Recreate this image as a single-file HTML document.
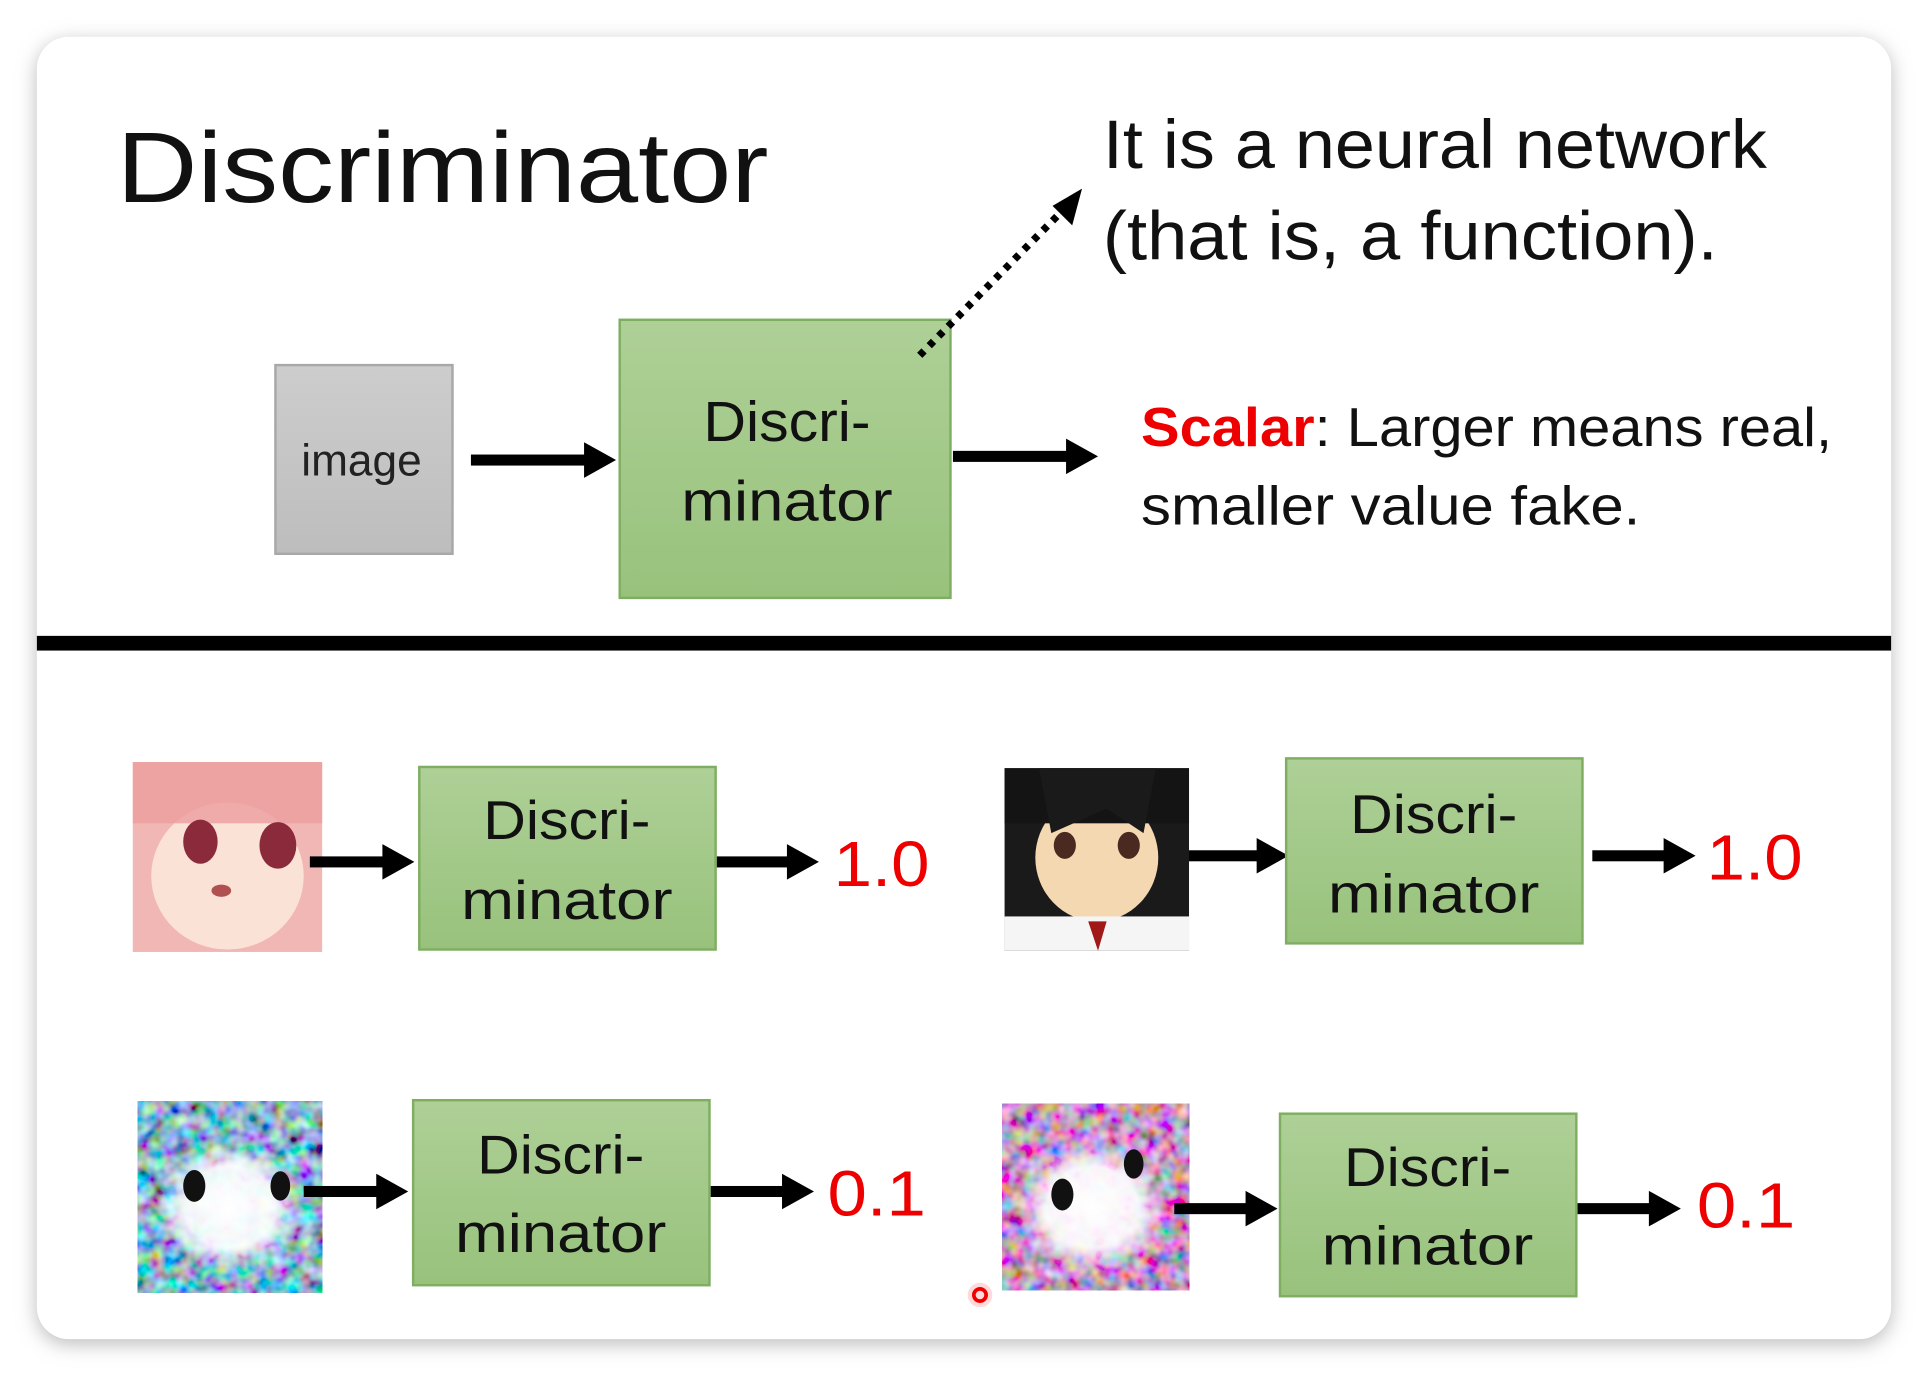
<!DOCTYPE html>
<html><head><meta charset="utf-8"><style>
html,body{margin:0;padding:0;background:#fff;width:1928px;height:1382px;overflow:hidden}
svg{display:block}
text{font-family:"Liberation Sans",sans-serif}
</style></head><body>
<svg width="1928" height="1382" viewBox="0 0 1568 1128" preserveAspectRatio="none" xmlns="http://www.w3.org/2000/svg">
<defs>
<filter id="sh" x="-5%" y="-5%" width="110%" height="110%"><feGaussianBlur stdDeviation="8"/></filter>
<linearGradient id="g" x1="0" y1="0" x2="0" y2="1"><stop offset="0" stop-color="#aed097"/><stop offset="1" stop-color="#98c27c"/></linearGradient>
<linearGradient id="gr" x1="0" y1="0" x2="0" y2="1"><stop offset="0" stop-color="#cdcdcd"/><stop offset="1" stop-color="#bdbdbd"/></linearGradient>
<filter id="n1" x="0" y="0" width="100%" height="100%"><feTurbulence type="fractalNoise" baseFrequency="0.09" numOctaves="2" seed="3"/><feColorMatrix type="matrix" values="1.2 0 0 0 -0.35  0 1.6 0 0 -0.35  0 0 1.6 0 -0.2  0 0 0 0 1"/></filter>
<filter id="n2" x="0" y="0" width="100%" height="100%"><feTurbulence type="fractalNoise" baseFrequency="0.09" numOctaves="2" seed="7"/><feColorMatrix type="matrix" values="1.6 0 0 0 -0.25  0 1.3 0 0 -0.35  0 0 1.6 0 -0.25  0 0 0 0 1"/></filter>
<radialGradient id="wc"><stop offset="0" stop-color="#fff" stop-opacity="1"/><stop offset="0.6" stop-color="#fff" stop-opacity="0.9"/><stop offset="1" stop-color="#fff" stop-opacity="0"/></radialGradient>
</defs>
<rect x="0" y="0" width="1568" height="1128" fill="#fff"/>
<rect x="30" y="34" width="1508" height="1063" rx="26" fill="#bbb" filter="url(#sh)"/>
<rect x="30" y="30" width="1508" height="1063" rx="26" fill="#fff"/>

<text x="95" y="165" font-size="82" textLength="530" lengthAdjust="spacingAndGlyphs" fill="#111">Discriminator</text>
<text x="897" y="137" font-size="56" textLength="540" lengthAdjust="spacingAndGlyphs" fill="#111">It is a neural network</text>
<text x="897" y="212" font-size="56" textLength="500" lengthAdjust="spacingAndGlyphs" fill="#111">(that is, a function).</text>

<rect x="224" y="298" width="144" height="154" fill="url(#gr)" stroke="#a8a8a8" stroke-width="2"/>
<text x="294" y="388" font-size="36" text-anchor="middle" textLength="98" lengthAdjust="spacingAndGlyphs" fill="#222">image</text>
<rect x="383" y="371" width="95" height="9" fill="#000"/><polygon points="501,375.5 475,361 475,390" fill="#000"/>
<rect x="504" y="261" width="269" height="227" fill="url(#g)" stroke="#7fae62" stroke-width="2"/>
<line x1="748" y1="290" x2="866" y2="170" stroke="#000" stroke-width="6" stroke-dasharray="5,6"/>
<polygon points="880,154 872,184 856,168" fill="#000"/>
<text x="640" y="360" font-size="46" text-anchor="middle" textLength="136" lengthAdjust="spacingAndGlyphs" fill="#111">Discri-</text>
<text x="640" y="425" font-size="46" text-anchor="middle" textLength="172" lengthAdjust="spacingAndGlyphs" fill="#111">minator</text>
<rect x="775" y="368" width="94" height="9" fill="#000"/><polygon points="893,372.5 867,358 867,387" fill="#000"/>
<text x="928" y="364" font-size="45" textLength="562" lengthAdjust="spacingAndGlyphs" fill="#111"><tspan fill="#e00" font-weight="bold">Scalar</tspan>: Larger means real,</text>
<text x="928" y="428" font-size="45" textLength="406" lengthAdjust="spacingAndGlyphs" fill="#111">smaller value fake.</text>

<rect x="30" y="519" width="1508" height="12" fill="#000"/>

<rect x="108" y="622" width="154" height="155" fill="#f1b7b4"/>
<ellipse cx="185" cy="715" rx="62" ry="60" fill="#fbe2d6"/>
<rect x="108" y="622" width="154" height="50" fill="#ec9e9e" opacity="0.8"/>
<ellipse cx="163" cy="687" rx="14" ry="18" fill="#8a2a3a"/><ellipse cx="226" cy="690" rx="15" ry="19" fill="#8a2a3a"/>
<ellipse cx="180" cy="727" rx="8" ry="5" fill="#b05050"/>
<rect x="817" y="627" width="150" height="149" fill="#1a1a1a"/>
<ellipse cx="892" cy="700" rx="50" ry="52" fill="#f4d8b2"/>
<rect x="817" y="627" width="150" height="45" fill="#141414"/>
<polygon points="855,680 845,627 940,627 930,680 900,660" fill="#1a1a1a"/>
<ellipse cx="866" cy="690" rx="9" ry="11" fill="#4a2a20"/><ellipse cx="918" cy="690" rx="9" ry="11" fill="#4a2a20"/>
<rect x="817" y="748" width="150" height="28" fill="#f5f5f5"/>
<polygon points="885,752 900,752 893,776" fill="#a01818"/>
<rect x="112" y="899" width="150" height="156" filter="url(#n1)"/>
<ellipse cx="187" cy="985" rx="62" ry="55" fill="url(#wc)"/>
<ellipse cx="158" cy="968" rx="9" ry="13" fill="#111"/><ellipse cx="228" cy="968" rx="8" ry="12" fill="#111"/>
<rect x="815" y="901" width="152" height="152" filter="url(#n2)"/>
<ellipse cx="888" cy="985" rx="62" ry="55" fill="url(#wc)"/>
<ellipse cx="864" cy="975" rx="9" ry="13" fill="#111"/><ellipse cx="922" cy="950" rx="8" ry="12" fill="#111"/>

<rect x="252" y="699" width="62" height="9" fill="#000"/><polygon points="337,703.5 311,689 311,718" fill="#000"/>
<rect x="341" y="626" width="241" height="149" fill="url(#g)" stroke="#7fae62" stroke-width="2"/>
<text x="461" y="685" font-size="45" text-anchor="middle" textLength="136" lengthAdjust="spacingAndGlyphs" fill="#111">Discri-</text>
<text x="461" y="750" font-size="45" text-anchor="middle" textLength="172" lengthAdjust="spacingAndGlyphs" fill="#111">minator</text>
<rect x="583" y="699" width="60" height="9" fill="#000"/><polygon points="666,703.5 640,689 640,718" fill="#000"/>
<text x="678" y="723" font-size="52" textLength="78" lengthAdjust="spacingAndGlyphs" fill="#e00">1.0</text>
<rect x="967" y="694" width="58" height="9" fill="#000"/><polygon points="1048,698.5 1022,684 1022,713" fill="#000"/>
<rect x="1046" y="619" width="241" height="151" fill="url(#g)" stroke="#7fae62" stroke-width="2"/>
<text x="1166" y="680" font-size="45" text-anchor="middle" textLength="136" lengthAdjust="spacingAndGlyphs" fill="#111">Discri-</text>
<text x="1166" y="745" font-size="45" text-anchor="middle" textLength="172" lengthAdjust="spacingAndGlyphs" fill="#111">minator</text>
<rect x="1295" y="694" width="60" height="9" fill="#000"/><polygon points="1379,698.5 1353,684 1353,713" fill="#000"/>
<text x="1388" y="718" font-size="52" textLength="78" lengthAdjust="spacingAndGlyphs" fill="#e00">1.0</text>
<rect x="247" y="968" width="62" height="9" fill="#000"/><polygon points="332,972.5 306,958 306,987" fill="#000"/>
<rect x="336" y="898" width="241" height="151" fill="url(#g)" stroke="#7fae62" stroke-width="2"/>
<text x="456" y="958" font-size="45" text-anchor="middle" textLength="136" lengthAdjust="spacingAndGlyphs" fill="#111">Discri-</text>
<text x="456" y="1022" font-size="45" text-anchor="middle" textLength="172" lengthAdjust="spacingAndGlyphs" fill="#111">minator</text>
<rect x="578" y="968" width="60" height="9" fill="#000"/><polygon points="662,972.5 636,958 636,987" fill="#000"/>
<text x="673" y="992" font-size="52" textLength="80" lengthAdjust="spacingAndGlyphs" fill="#e00">0.1</text>
<rect x="955" y="982" width="60" height="9" fill="#000"/><polygon points="1039,986.5 1013,972 1013,1001" fill="#000"/>
<rect x="1041" y="909" width="241" height="149" fill="url(#g)" stroke="#7fae62" stroke-width="2"/>
<text x="1161" y="968" font-size="45" text-anchor="middle" textLength="136" lengthAdjust="spacingAndGlyphs" fill="#111">Discri-</text>
<text x="1161" y="1032" font-size="45" text-anchor="middle" textLength="172" lengthAdjust="spacingAndGlyphs" fill="#111">minator</text>
<rect x="1283" y="982" width="60" height="9" fill="#000"/><polygon points="1367,986.5 1341,972 1341,1001" fill="#000"/>
<text x="1380" y="1002" font-size="52" textLength="80" lengthAdjust="spacingAndGlyphs" fill="#e00">0.1</text>

<circle cx="797" cy="1057" r="10" fill="#f00" opacity="0.15"/>
<circle cx="797" cy="1057" r="5" fill="none" stroke="#e00" stroke-width="3"/>
</svg>
</body></html>
